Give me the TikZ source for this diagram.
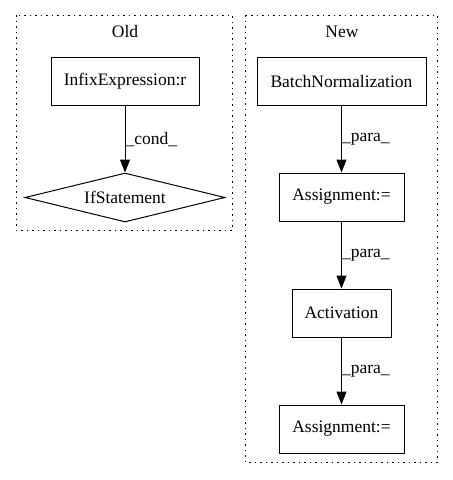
\documentclass[tikz,border=0pt]{standalone}
\usepackage{fontspec}
\setmainfont{Liberation Serif}
\usetikzlibrary{shapes.geometric,arrows.meta}
\begin{document}
\begin{tikzpicture}[x=1pt,y=-1pt,
  box/.style={draw,line width=1pt,rectangle,minimum height=48pt,inner sep=0pt,font=\fontsize{17.5}{20}\selectfont},
  cluster/.style={draw,line width=1pt,dash pattern=on 1.5pt off 4pt},
  edge/.style={draw,line width=1pt,-{Triangle[length=13pt,width=10pt]}},
  elabel/.style={anchor=west,inner sep=0pt,font=\fontsize{17.5}{20}\selectfont},
  ctitle/.style={font=\fontsize{17.5}{20}\selectfont,inner sep=0pt}]
\useasboundingbox (0,0) rectangle (453,480);
% clusters
\draw[cluster] (16,15) rectangle (232,230);
\draw[cluster] (245,15) rectangle (437,462);
\node[ctitle] (told) at (125,32) {Old};
\node[ctitle] (tnew) at (342,32) {New};
% Old
\node[box,minimum width=148pt] (infix) at (125,81.5) {InfixExpression:r};
\node[draw,line width=1pt,diamond,aspect=4,minimum width=200pt,minimum height=49pt,inner sep=0pt,font=\fontsize{17.5}{20}\selectfont] (ifst) at (125,197.5) {IfStatement};
\draw[edge] (infix) -- (ifst) node[elabel,pos=0.5] {\_cond\_};
% New
\node[box,minimum width=169pt] (bn) at (341.5,81.5) {BatchNormalization};
\node[box,minimum width=125pt] (as1) at (341.5,197) {Assignment:=};
\node[box,minimum width=99pt] (act) at (341.5,313) {Activation};
\node[box,minimum width=125pt] (as2) at (341.5,429) {Assignment:=};
\draw[edge] (bn) -- (as1) node[elabel,pos=0.5] {\_para\_};
\draw[edge] (as1) -- (act) node[elabel,pos=0.5] {\_para\_};
\draw[edge] (act) -- (as2) node[elabel,pos=0.5] {\_para\_};
\end{tikzpicture}
\end{document}
